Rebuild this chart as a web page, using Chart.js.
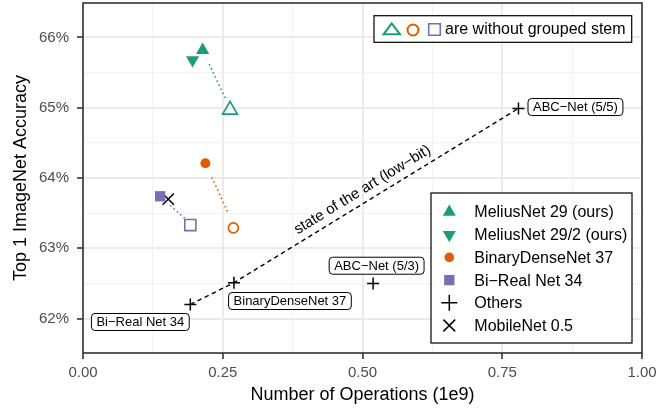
<!DOCTYPE html>
<html>
<head>
<meta charset="utf-8">
<script src="https://cdn.jsdelivr.net/npm/chart.js@4.4.0/dist/chart.umd.min.js"></script>
<style>
  html, body { margin: 0; padding: 0; background: #fff; }
  #wrap { width: 667px; height: 410px; }
</style>
</head>
<body>
<div id="wrap"><canvas id="chart" width="667" height="410"></canvas></div>
<script>
const TEAL = '#1B9E77', ORANGE = '#D95F02', PURPLE = '#7570B3';
const FONT = "'Liberation Sans', Arial, sans-serif";

// x = number of operations (1e9), y = top-1 accuracy (%)
const meliusNet29 = [{ x: 0.214, y: 65.82 }];
const meliusNet29half = [{ x: 0.196, y: 65.68 }];
const binaryDenseNet37 = [{ x: 0.219, y: 64.21 }];
const biRealNet34 = [{ x: 0.138, y: 63.74 }];
const mobileNet05 = [{ x: 0.1525, y: 63.70 }];
const others = [
    { x: 0.192, y: 62.20 },
    { x: 0.270, y: 62.51 },
    { x: 0.519, y: 62.50 },
    { x: 0.779, y: 64.99 }
];
const otherNames = ['Bi\u2212Real Net 34', 'BinaryDenseNet 37', 'ABC\u2212Net (5/3)', 'ABC\u2212Net (5/5)'];

// same models without grouped stem
const melius29NoStem = [{ x: 0.263, y: 64.97 }];
const binaryDenseNoStem = [{ x: 0.269, y: 63.29 }];
const biRealNoStem = [{ x: 0.192, y: 63.33 }];

// dotted links between "with" and "without" grouped stem
const meliusLink = [{ x: 0.2257, y: 65.62 }, { x: 0.2555, y: 65.12 }];
const denseLink = [{ x: 0.2305, y: 64.01 }, { x: 0.2597, y: 63.50 }];
const biRealLink = [{ x: 0.156, y: 63.61 }, { x: 0.1853, y: 63.40 }];

// state of the art (low-bit) line
const sotaLine = [others[0], others[1], others[3]];
const sotaText = { x: 0.50, y: 63.83, text: 'state of the art (low\u2212bit)' };

const xTicks = [0, 0.25, 0.5, 0.75, 1];
const yTicks = [62, 63, 64, 65, 66];
const xGrid = [0, 0.125, 0.25, 0.375, 0.5, 0.625, 0.75, 0.875, 1];
const yGrid = [62, 62.5, 63, 63.5, 64, 64.5, 65, 65.5, 66];

const isMajor = (v, list) => list.some(t => Math.abs(t - v) < 1e-9);

function drawShape(ctx, style, x, y, r, fill, stroke, lw) {
    ctx.save();
    ctx.beginPath();
    if (style === 'triangle' || style === 'triangleDown') {
        const s = style === 'triangle' ? 1 : -1;
        ctx.moveTo(x, y - s * r);
        ctx.lineTo(x + r * 0.866, y + s * r / 2);
        ctx.lineTo(x - r * 0.866, y + s * r / 2);
        ctx.closePath();
    } else if (style === 'circle') {
        ctx.arc(x, y, r, 0, Math.PI * 2);
    } else if (style === 'rect') {
        const h = r * Math.SQRT1_2;
        ctx.rect(x - h, y - h, 2 * h, 2 * h);
    } else if (style === 'cross') {
        ctx.moveTo(x - r, y); ctx.lineTo(x + r, y);
        ctx.moveTo(x, y - r); ctx.lineTo(x, y + r);
    } else if (style === 'crossRot') {
        const h = r * Math.SQRT1_2;
        ctx.moveTo(x - h, y - h); ctx.lineTo(x + h, y + h);
        ctx.moveTo(x - h, y + h); ctx.lineTo(x + h, y - h);
    }
    if (fill) { ctx.fillStyle = fill; ctx.fill(); }
    if (stroke) { ctx.strokeStyle = stroke; ctx.lineWidth = lw; ctx.stroke(); }
    ctx.restore();
}

function roundBox(ctx, x, y, w, h, r) {
    ctx.beginPath();
    ctx.moveTo(x + r, y);
    ctx.arcTo(x + w, y, x + w, y + h, r);
    ctx.arcTo(x + w, y + h, x, y + h, r);
    ctx.arcTo(x, y + h, x, y, r);
    ctx.arcTo(x, y, x + w, y, r);
    ctx.closePath();
}

const legendItems = [
    { label: 'MeliusNet 29 (ours)', style: 'triangle', r: 7.5, fill: TEAL },
    { label: 'MeliusNet 29/2 (ours)', style: 'triangleDown', r: 7.5, fill: TEAL },
    { label: 'BinaryDenseNet 37', style: 'circle', r: 4.8, fill: ORANGE },
    { label: 'Bi\u2212Real Net 34', style: 'rect', r: 7.3, fill: PURPLE },
    { label: 'Others', style: 'cross', r: 8, stroke: '#000', lw: 1.5 },
    { label: 'MobileNet 0.5', style: 'crossRot', r: 8.3, stroke: '#000', lw: 1.5 }
];

const labelOffsets = [[-50, 17.5], [56, 18.3], [3.5, -17.7], [57, -1.4]];

const decorPlugin = {
    id: 'decor',
    beforeDatasetsDraw(chart) {
        const { ctx, chartArea: a } = chart;
        ctx.save();
        ctx.strokeStyle = '#333333';
        ctx.lineWidth = 1.6;
        ctx.strokeRect(a.left, a.top, a.right - a.left, a.bottom - a.top);
        ctx.restore();
    },
    afterDatasetsDraw(chart) {
        const { ctx, chartArea: a, scales: { x, y } } = chart;
        ctx.save();

        // labels of the "Others" points
        ctx.font = '13px ' + FONT;
        ctx.textAlign = 'center';
        ctx.textBaseline = 'middle';
        others.forEach((p, i) => {
            const cx = x.getPixelForValue(p.x) + labelOffsets[i][0];
            const cy = y.getPixelForValue(p.y) + labelOffsets[i][1];
            const w = ctx.measureText(otherNames[i]).width + 10;
            const h = 17;
            roundBox(ctx, cx - w / 2, cy - h / 2, w, h, 3.5);
            ctx.fillStyle = '#fff';
            ctx.fill();
            ctx.strokeStyle = '#000';
            ctx.lineWidth = 1;
            ctx.stroke();
            ctx.fillStyle = '#000';
            ctx.fillText(otherNames[i], cx, cy + 0.5);
        });

        // rotated state-of-the-art text along the dashed line
        const p1 = sotaLine[1], p2 = sotaLine[2];
        const ang = Math.atan2(y.getPixelForValue(p2.y) - y.getPixelForValue(p1.y),
                               x.getPixelForValue(p2.x) - x.getPixelForValue(p1.x));
        ctx.save();
        ctx.translate(x.getPixelForValue(sotaText.x), y.getPixelForValue(sotaText.y));
        ctx.rotate(ang);
        ctx.font = '15px ' + FONT;
        ctx.fillStyle = '#000';
        ctx.fillText(sotaText.text, 0, 0);
        ctx.restore();

        // main legend, bottom right inside the panel
        const lw = 201, lh = 150;
        const lx = a.right - 10 - lw, ly = a.bottom - 10 - lh;
        ctx.fillStyle = '#fff';
        ctx.fillRect(lx, ly, lw, lh);
        ctx.strokeStyle = '#000';
        ctx.lineWidth = 1.2;
        ctx.strokeRect(lx, ly, lw, lh);
        ctx.font = '16px ' + FONT;
        ctx.textAlign = 'left';
        legendItems.forEach((it, i) => {
            const ry = ly + 19 + i * 22.7;
            drawShape(ctx, it.style, lx + 18.3, ry, it.r, it.fill, it.stroke, it.lw);
            ctx.fillStyle = '#000';
            ctx.fillText(it.label, lx + 43.3, ry + 1);
        });

        // top legend for the open symbols
        const tw = 257.7, th = 26.6;
        const tx = a.right - 10.3 - tw, ty = a.top + 12.7;
        ctx.fillStyle = '#fff';
        ctx.fillRect(tx, ty, tw, th);
        ctx.strokeStyle = '#000';
        ctx.lineWidth = 1.2;
        ctx.strokeRect(tx, ty, tw, th);
        const my = ty + th / 2;
        ctx.save();
        ctx.lineWidth = 2;
        ctx.strokeStyle = TEAL;
        ctx.beginPath();
        ctx.moveTo(tx + 9.5, my + 5.3);
        ctx.lineTo(tx + 26, my + 5.3);
        ctx.lineTo(tx + 17.7, my - 5.7);
        ctx.closePath();
        ctx.stroke();
        ctx.restore();
        drawShape(ctx, 'circle', tx + 39, my + 1, 5.5, null, ORANGE, 2);
        drawShape(ctx, 'rect', tx + 60.5, my + 0.5, 8.2, null, PURPLE, 1.6);
        ctx.fillStyle = '#000';
        ctx.font = '16px ' + FONT;
        ctx.fillText('are without grouped stem', tx + 71, my + 1);

        ctx.restore();
    }
};

const pointSet = (label, data, style, r, color, extra) => Object.assign({
    label, data, pointStyle: style, pointRadius: r,
    backgroundColor: color, borderColor: color, pointBorderWidth: 0, order: 0
}, extra || {});

const linkSet = (data, color) => ({
    data, showLine: true, pointRadius: 0, borderColor: color, borderWidth: 1.6,
    borderDash: [1.5, 3], fill: false, order: 5
});

new Chart(document.getElementById('chart'), {
    type: 'scatter',
    data: {
        datasets: [
            pointSet('MeliusNet 29 (ours)', meliusNet29, 'triangle', 7.6, TEAL),
            pointSet('MeliusNet 29/2 (ours)', meliusNet29half, 'triangle', 7.6, TEAL, { rotation: 180 }),
            pointSet('BinaryDenseNet 37', binaryDenseNet37, 'circle', 5, ORANGE),
            pointSet('Bi\u2212Real Net 34', biRealNet34, 'rect', 7.3, PURPLE),
            pointSet('Others', others, 'cross', 6, '#000', { pointBorderWidth: 1.5 }),
            pointSet('MobileNet 0.5', mobileNet05, 'crossRot', 8, '#000', { pointBorderWidth: 1.5 }),
            pointSet('no stem 29', melius29NoStem, 'triangle', 8.5, TEAL, { backgroundColor: 'rgba(0,0,0,0)', pointBorderWidth: 1.7 }),
            pointSet('no stem dense', binaryDenseNoStem, 'circle', 5, ORANGE, { backgroundColor: 'rgba(0,0,0,0)', pointBorderWidth: 1.7 }),
            pointSet('no stem bireal', biRealNoStem, 'rect', 7.8, PURPLE, { backgroundColor: 'rgba(0,0,0,0)', pointBorderWidth: 1.6 }),
            linkSet(meliusLink, TEAL),
            linkSet(denseLink, ORANGE),
            linkSet(biRealLink, PURPLE),
            {
                data: sotaLine, showLine: true, pointRadius: 0, borderColor: '#000',
                borderWidth: 1.4, borderDash: [4.5, 3.5], fill: false, order: 5
            }
        ]
    },
    options: {
        responsive: false,
        animation: false,
        events: [],
        layout: { autoPadding: false, padding: { left: 0, top: 3, right: 25, bottom: 0 } },
        plugins: { legend: { display: false }, tooltip: { enabled: false } },
        scales: {
            x: {
                type: 'linear', min: 0, max: 1,
                afterBuildTicks: s => { s.ticks = xGrid.map(v => ({ value: v })); },
                afterFit: s => { s.height = 57; s.paddingLeft = 0; s.paddingRight = 0; },
                border: { display: false },
                grid: {
                    color: c => isMajor(c.tick.value, xTicks) ? '#EBEBEB' : '#F3F3F3',
                    lineWidth: c => isMajor(c.tick.value, xTicks) ? 2 : 1.2,
                    tickColor: c => isMajor(c.tick.value, xTicks) ? '#333333' : 'rgba(0,0,0,0)',
                    tickWidth: 1.6,
                    tickLength: 6
                },
                ticks: {
                    autoSkip: false, maxRotation: 0, padding: 5, color: '#4D4D4D',
                    font: { family: FONT, size: 15 },
                    callback: v => isMajor(v, xTicks) ? v.toFixed(2) : ''
                },
                title: {
                    display: true, text: 'Number of Operations (1e9)', color: '#000',
                    font: { family: FONT, size: 18 }, padding: { top: 0, bottom: 4 }
                }
            },
            y: {
                type: 'linear', min: 61.51, max: 66.49,
                afterBuildTicks: s => { s.ticks = yGrid.map(v => ({ value: v })); },
                afterFit: s => { s.width = 83; s.paddingTop = 0; s.paddingBottom = 0; },
                border: { display: false },
                grid: {
                    color: c => isMajor(c.tick.value, yTicks) ? '#EBEBEB' : '#F3F3F3',
                    lineWidth: c => isMajor(c.tick.value, yTicks) ? 2 : 1.2,
                    tickColor: c => isMajor(c.tick.value, yTicks) ? '#333333' : 'rgba(0,0,0,0)',
                    tickWidth: 1.6,
                    tickLength: 6
                },
                ticks: {
                    autoSkip: false, padding: 8, color: '#4D4D4D',
                    font: { family: FONT, size: 15 },
                    callback: v => isMajor(v, yTicks) ? v + '%' : ''
                },
                title: {
                    display: true, text: 'Top 1 ImageNet Accuracy', color: '#000',
                    font: { family: FONT, size: 18 }, padding: { top: 10, bottom: 0 }
                }
            }
        }
    },
    plugins: [decorPlugin]
});
</script>
</body>
</html>
